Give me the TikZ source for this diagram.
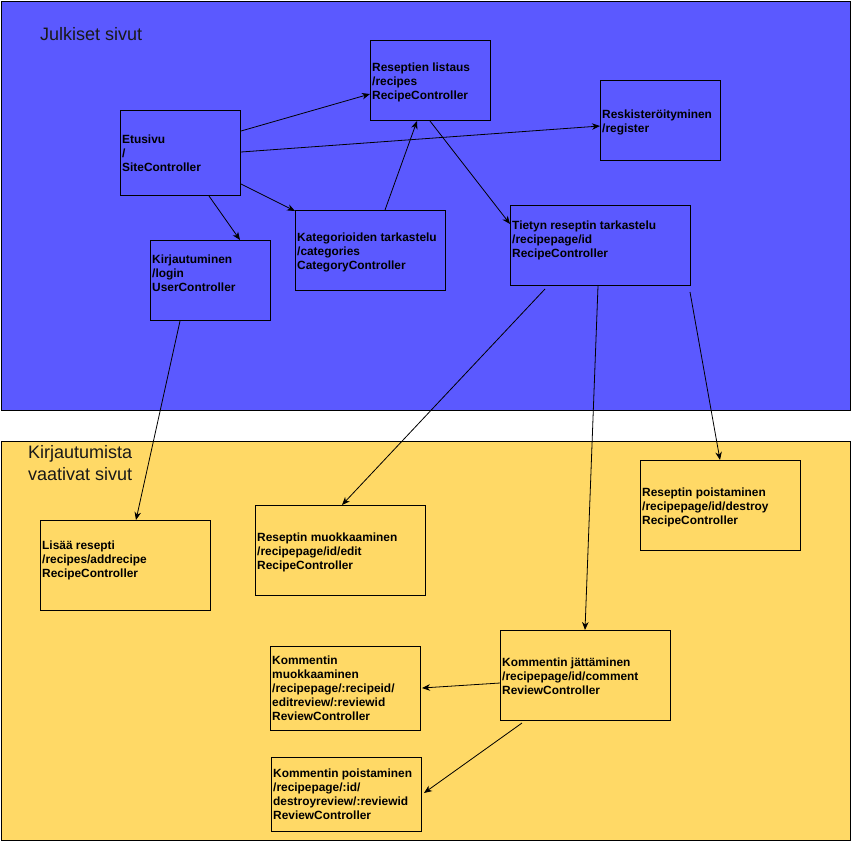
\documentclass[tikz,border=0pt]{standalone}
\usepackage{fontspec}
\setmainfont{Liberation Sans}
\usetikzlibrary{arrows.meta}
\definecolor{pubblue}{HTML}{5B59FF}
\definecolor{authyellow}{HTML}{FFD966}
\tikzset{
  region/.style={draw=black, line width=1pt, inner sep=0pt, anchor=north west},
  page/.style={draw=black, line width=1pt, inner sep=0pt, anchor=north west},
  lbl/.style={anchor=west, align=left, inner sep=0pt, font=\bfseries\fontsize{11.9}{14}\selectfont},
  ttl/.style={anchor=west, align=left, inner sep=0pt, font=\fontsize{18}{21.5}\selectfont, text=black!90},
  link/.style={line width=0.8pt, -{Stealth[length=8pt,width=6.5pt,inset=2.5pt]}},
}
\begin{document}
\begin{tikzpicture}[x=1pt, y=-1pt]
\useasboundingbox (0,0) rectangle (851,841);
% areas
\node[region, fill=pubblue, minimum width=849pt, minimum height=409pt] (pub) at (0.5,0.5) {};
\node[region, fill=authyellow, minimum width=849pt, minimum height=399pt] (auth) at (0.5,440.5) {};
\node[ttl] (pubtitle) at (40,34) {Julkiset sivut};
\node[ttl] (authtitle) at (28,463) {Kirjautumista\\vaativat sivut};

% public pages
\node[page, minimum width=120pt, minimum height=85pt] (etu) at (120,110) {};
\node[page, minimum width=120pt, minimum height=80pt] (list) at (370,40) {};
\node[page, minimum width=120pt, minimum height=80pt] (reg) at (600,80) {};
\node[page, minimum width=150pt, minimum height=80pt] (kat) at (295,210) {};
\node[page, minimum width=120pt, minimum height=80pt] (login) at (150,240) {};
\node[page, minimum width=180pt, minimum height=80pt] (tiet) at (510,205) {};

% pages that require login
\node[page, minimum width=170pt, minimum height=90pt] (add) at (40,520) {};
\node[page, minimum width=170pt, minimum height=90pt] (edit) at (255,505) {};
\node[page, minimum width=160pt, minimum height=90pt] (del) at (640,460) {};
\node[page, minimum width=170pt, minimum height=90pt] (com) at (500,630) {};
\node[page, minimum width=150pt, minimum height=84pt] (cedit) at (270,646) {};
\node[page, minimum width=150pt, minimum height=74pt] (cdel) at (271,757) {};

% labels
\node[lbl] (etuT) at (122,153) {Etusivu\\/\\SiteController};
\node[lbl] (listT) at (372,82) {Reseptien listaus\\/recipes\\RecipeController};
\node[lbl] (regT) at (602,122) {Reskisteröityminen\\/register};
\node[lbl] (katT) at (297,252) {Kategorioiden tarkastelu\\/categories\\CategoryController};
\node[lbl] (loginT) at (152,273) {Kirjautuminen\\/login\\UserController};
\node[lbl] (tietT) at (512,240) {Tietyn reseptin tarkastelu\\/recipepage/id\\RecipeController};
\node[lbl] (addT) at (42,560) {Lisää resepti\\/recipes/addrecipe\\RecipeController};
\node[lbl] (editT) at (257,552) {Reseptin muokkaaminen\\/recipepage/id/edit\\RecipeController};
\node[lbl] (delT) at (642,507) {Reseptin poistaminen\\/recipepage/id/destroy\\RecipeController};
\node[lbl] (comT) at (502,676) {Kommentin jättäminen\\/recipepage/id/comment\\ReviewController};
\node[lbl] (ceditT) at (272,688) {Kommentin\\muokkaaminen\\/recipepage/:recipeid/\\editreview/:reviewid\\ReviewController};
\node[lbl] (cdelT) at (273,794) {Kommentin poistaminen\\/recipepage/:id/\\destroyreview/:reviewid\\ReviewController};

% links
\draw[link] ([yshift=-21pt]etu.north east) -- ([yshift=-54pt]list.north west);
\draw[link] ([yshift=-42pt]etu.north east) -- ([yshift=-46pt]reg.north west);
\draw[link] ([yshift=-74pt]etu.north east) -- ([yshift=-1pt]kat.north west);
\draw[link] ([xshift=89pt]etu.south west) -- ([xshift=90pt]login.north west);
\draw[link] ([xshift=90pt]kat.north west) -- ([xshift=47pt]list.south west);
\draw[link] ([xshift=60pt]list.south west) -- ([yshift=-19pt]tiet.north west);
\draw[link] ([xshift=30pt]login.south west) -- ([xshift=96pt]add.north west);
\draw[link] ([xshift=35pt,yshift=-3pt]tiet.south west) -- ([xshift=87pt]edit.north west);
\draw[link] ([xshift=88pt]tiet.south west) -- ([xshift=85pt]com.north west);
\draw[link] ([xshift=-1pt,yshift=-6pt]tiet.south east) -- ([xshift=80pt]del.north west);
\draw[link] ([yshift=-53pt]com.north west) -- ([xshift=1pt,yshift=-42pt]cedit.north east);
\draw[link] ([xshift=22pt,yshift=-2pt]com.south west) -- ([xshift=2pt,yshift=-36pt]cdel.north east);
\end{tikzpicture}
\end{document}
